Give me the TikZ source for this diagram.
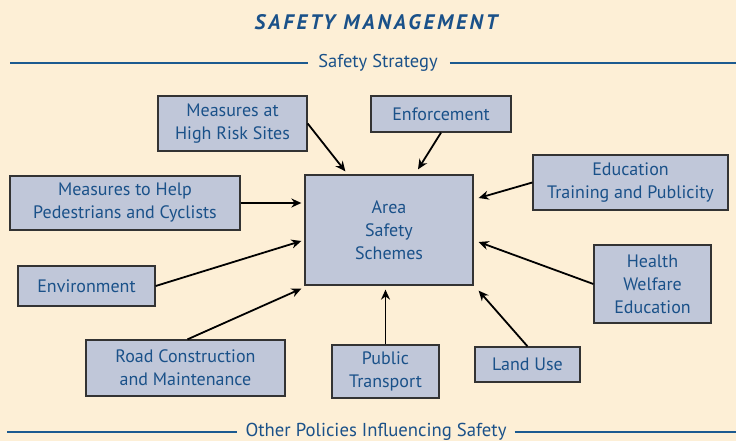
\documentclass[tikz,border=0pt]{standalone}
\usepackage{fontspec}
\setmainfont{PT Sans}
\usetikzlibrary{calc,arrows.meta}
\definecolor{bg}{HTML}{FDEFD6}
\definecolor{boxfill}{HTML}{C0C7D9}
\definecolor{txtblue}{HTML}{1A5189}
\definecolor{lineblue}{HTML}{1C5A8F}
\definecolor{boxline}{HTML}{333333}
\begin{document}
\begin{tikzpicture}[x=1pt,y=-1pt,
  box/.style={draw=boxline,line width=1.3pt,fill=boxfill,text=txtblue,align=center,
    font=\fontsize{18}{23}\selectfont,inner sep=0pt},
  arr/.style={-{Stealth[length=10pt,width=9pt]},line width=1.8pt,black},
  rule/.style={line width=2.6pt,lineblue},
  lbl/.style={text=txtblue,font=\fontsize{18.5}{20}\selectfont,inner sep=0pt}]
\fill[bg] (0,0) rectangle (736,441);
\useasboundingbox (0,0) rectangle (736,441);
% title
\node[text=txtblue,font=\fontsize{21}{24}\bfseries\itshape\addfontfeatures{LetterSpace=14}\selectfont] (title) at (376,22) {SAFETY\hspace{0.4em}MANAGEMENT};
% rules
\node[lbl] (ss) at (378,63) {Safety Strategy};
\coordinate (ssL) at (10,63);
\coordinate (ssR) at (736,63);
\draw[rule] (ssL) -- ($(ss.west)+(-10,0)$);
\draw[rule] ($(ss.east)+(12,0)$) -- (ssR);
\node[lbl,font=\fontsize{18.7}{20}\selectfont] (op) at (376,432) {Other Policies Influencing Safety};
\coordinate (opL) at (7,432);
\coordinate (opR) at (736,432);
\draw[rule] (opL) -- ($(op.west)+(-8,0)$);
\draw[rule] ($(op.east)+(8,0)$) -- (opR);
% boxes
\node[box,minimum width=149pt,minimum height=55pt] (hrs) at (232.5,123.5) {Measures at\\High Risk Sites};
\node[box,minimum width=140pt,minimum height=36pt] (enf) at (441,114) {Enforcement};
\node[box,minimum width=168pt,minimum height=110pt] (sch) at (389,230) {Area\\Safety\\Schemes};
\node[box,minimum width=195pt,minimum height=55pt] (edu) at (630.5,182.5) {Education\\Training and Publicity};
\node[box,minimum width=230pt,minimum height=54pt] (ped) at (125,203) {Measures to Help\\Pedestrians and Cyclists};
\node[box,minimum width=137pt,minimum height=40pt] (env) at (86.5,286) {Environment};
\node[box,minimum width=117pt,minimum height=78pt] (hwe) at (652.5,284) {Health\\Welfare\\Education};
\node[box,minimum width=199pt,minimum height=56pt] (rc) at (185.5,368) {Road Construction\\and Maintenance};
\node[box,minimum width=107pt,minimum height=53pt] (pt) at (385.5,371.5) {Public\\Transport};
\node[box,minimum width=105pt,minimum height=35pt] (lu) at (527.5,364.5) {Land Use};
% arrows
\draw[arr] (hrs.east) -- ($(sch.north west)+(41,-3)$);
\draw[arr] (enf.south) -- ($(sch.north)+(29,-5)$);
\draw[arr] (edu.west) -- ($(sch.east)+(5,-32)$);
\draw[arr] (ped.east) -- ($(sch.west)+(-3,-27)$);
\draw[arr] (env.east) -- ($(sch.west)+(-3,11)$);
\draw[arr] (hwe.west) -- ($(sch.east)+(5,12)$);
\draw[arr] ($(rc.north)+(2,0)$) -- ($(sch.south west)+(-3,3)$);
\draw[arr] (pt.north) -- ($(pt.north |- sch.south)+(0,4)$);
\draw[arr] (lu.north) -- ($(sch.south east)+(5,5)$);
\end{tikzpicture}
\end{document}
